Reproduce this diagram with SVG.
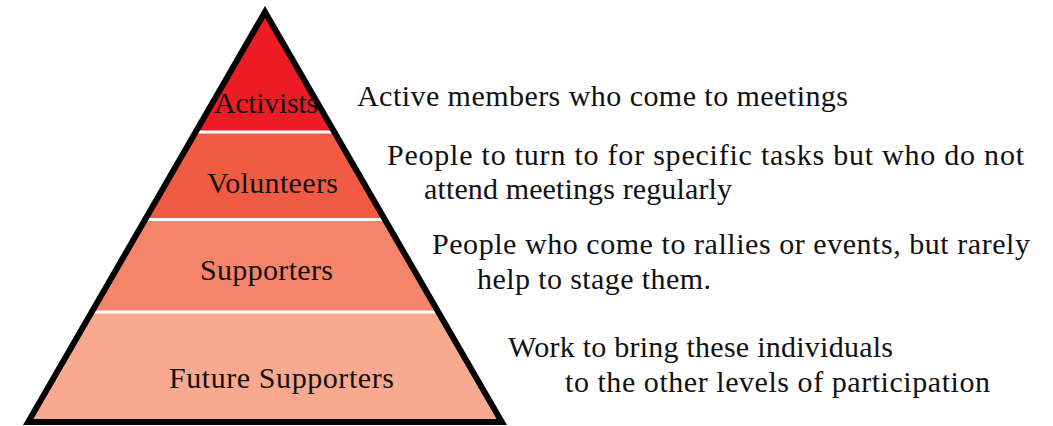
<svg xmlns="http://www.w3.org/2000/svg" width="1053" height="426" viewBox="0 0 1053 426">
  <style>
    text { font-family: "Liberation Serif", "Times New Roman", serif; fill: #111; font-size: 30px; }
    .sep { stroke: #ffffff; stroke-width: 3; }
    .outline { fill: none; stroke: #000; stroke-width: 6; stroke-linejoin: miter; }
  </style>
  <defs>
    <clipPath id="tri">
      <polygon points="265,12 28.2,422 501.8,422"/>
    </clipPath>
  </defs>
  <rect x="0" y="0" width="1053" height="426" fill="#ffffff"/>
  <g clip-path="url(#tri)">
    <g id="band-activists"><rect x="0" y="0" width="540" height="132" fill="#ED1C24"/></g>
    <g id="band-volunteers"><rect x="0" y="132" width="540" height="87.5" fill="#F15B43"/></g>
    <g id="band-supporters"><rect x="0" y="219.5" width="540" height="92.5" fill="#F4846A"/></g>
    <g id="band-future"><rect x="0" y="312" width="540" height="118" fill="#F9A98F"/></g>
    <line class="sep" x1="0" y1="132" x2="540" y2="132"/>
    <line class="sep" x1="0" y1="219.5" x2="540" y2="219.5"/>
    <line class="sep" x1="0" y1="312" x2="540" y2="312"/>
  </g>
  <polygon class="outline" points="265,12 28.2,422 501.8,422"/>
  <g id="activists">
    <text x="214" y="113" textLength="104">Activists</text>
    <text x="357" y="106" textLength="491">Active members who come to meetings</text>
  </g>
  <g id="volunteers">
    <text x="207" y="193" textLength="131">Volunteers</text>
    <text x="387" y="165" textLength="637">People to turn to for specific tasks but who do not</text>
    <text x="424" y="199" textLength="308">attend meetings regularly</text>
  </g>
  <g id="supporters">
    <text x="200" y="280" textLength="133">Supporters</text>
    <text x="432" y="254" textLength="598">People who come to rallies or events, but rarely</text>
    <text x="477" y="289" textLength="234">help to stage them.</text>
  </g>
  <g id="future-supporters">
    <text x="169" y="388" textLength="225">Future Supporters</text>
    <text x="508" y="357" textLength="385">Work to bring these individuals</text>
    <text x="565" y="392" textLength="425">to the other levels of participation</text>
  </g>
</svg>
